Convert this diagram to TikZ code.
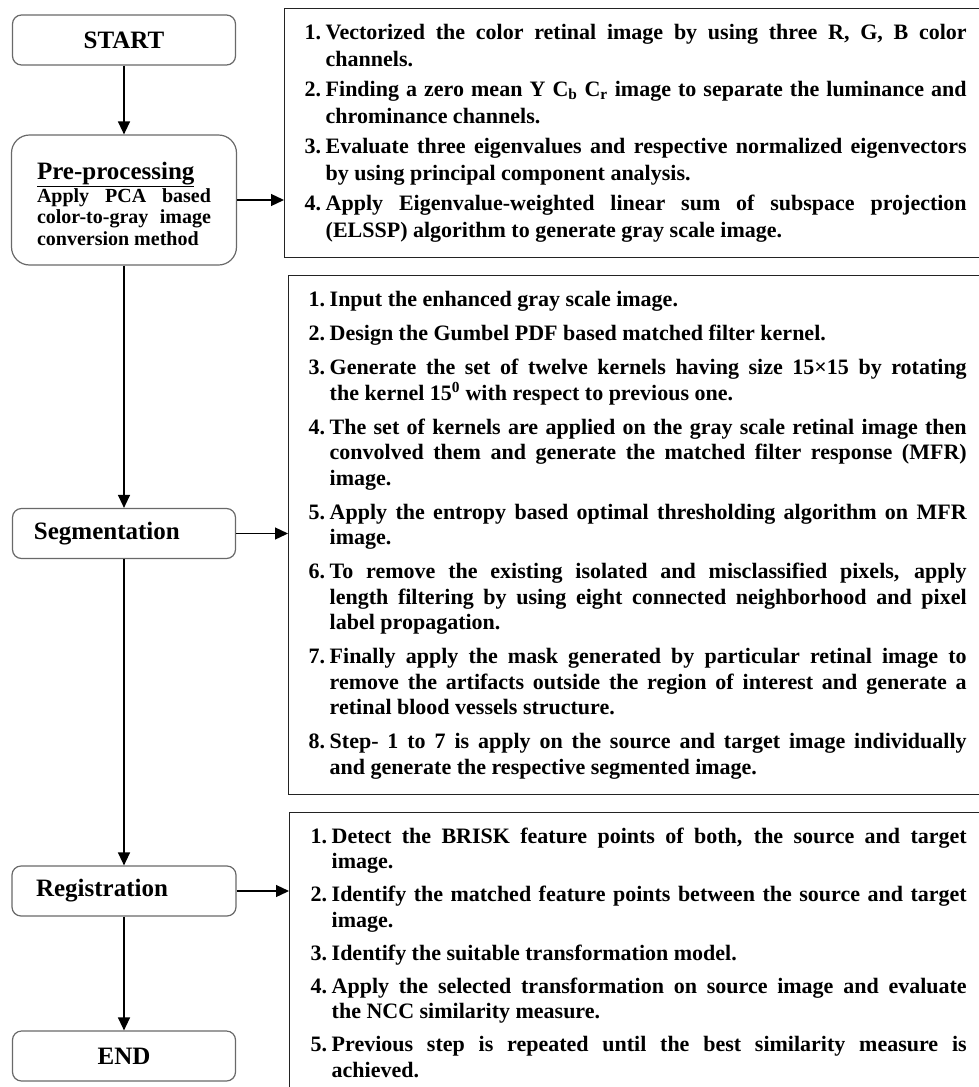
\documentclass[tikz,border=0pt]{standalone}
\usepackage{fontspec}
\setmainfont{Liberation Serif}
\usetikzlibrary{arrows.meta}
\definecolor{cFrame}{RGB}{35,35,35}
\definecolor{cStage}{RGB}{105,105,105}

\newcounter{stepno}
\newenvironment{steplist}[3]{%
  \begin{minipage}{#1}\fontsize{22}{#2}\selectfont\bfseries\tolerance=9999
  \list{\arabic{stepno}.}{\usecounter{stepno}\setlength\leftmargin{21pt}%
    \setlength\labelwidth{21pt}\setlength\labelsep{0pt}\setlength\itemsep{#3}%
    \setlength\parsep{0pt}\setlength\topsep{0pt}\setlength\partopsep{0pt}%
    \def\makelabel##1{##1\hfil}}}
  {\endlist\end{minipage}}

\begin{document}
\begin{tikzpicture}[x=1pt, y=-1pt,
    stage/.style={draw=cStage, line width=1.2pt, rounded corners=9pt, text width=180pt, inner xsep=21.5pt,
      minimum width=223pt, minimum height=50pt, font=\fontsize{25}{28}\selectfont\bfseries},
    panel/.style={draw=cFrame, line width=1.4pt, inner xsep=20pt, inner ysep=0pt},
    flow/.style={-{Triangle[length=13pt,width=12pt]}, line width=1.3pt}]
  \useasboundingbox (0,0) rectangle (978,1087);
  \node[stage, align=center] (start) at (124,40) {START};
  \node[stage, rounded corners=18pt, minimum width=225pt, minimum height=130pt, text width=174pt, inner xsep=25.5pt, align=justify] (pre) at (124,200)
    {\rule{0pt}{25pt}\underline{Pre-processing}\par\vskip1pt
     {\fontsize{20}{21.5}\selectfont Apply PCA based\linebreak color-to-gray image\linebreak conversion method\par}};
  \node[stage, align=left] (seg) at (124,533.5) {Segmentation};
  \node[stage, align=left, text width=176pt, inner xsep=24pt] (reg) at (124,891) {Registration};
  \node[stage, align=center] (stop) at (124,1056) {END};

  \node[panel, anchor=north west, minimum height=249pt] (prepbox) at (284,8) {\begin{steplist}{662pt}{27pt}{3pt}
    \item Vectorized the color retinal image by using three R, G, B color\linebreak channels.
    \item Finding a zero mean Y C\textsubscript{b} C\textsubscript{r} image to separate the luminance and\linebreak chrominance channels.
    \item Evaluate three eigenvalues and respective normalized eigenvectors\linebreak by using principal component analysis.
    \item Apply Eigenvalue-weighted linear sum of subspace projection\linebreak (ELSSP) algorithm to generate gray scale image.
  \end{steplist}};
  \node[panel, anchor=north west, minimum height=519pt] (segbox) at (288,275) {\begin{steplist}{658pt}{25.5pt}{8.5pt}
    \item Input the enhanced gray scale image.
    \item Design the Gumbel PDF based matched filter kernel.
    \item Generate the set of twelve kernels having size 15×15 by rotating\linebreak the kernel 15\textsuperscript{0} with respect to previous one.
    \item The set of kernels are applied on the gray scale retinal image then\linebreak convolved them and generate the matched filter response (MFR)\linebreak image.
    \item Apply the entropy based optimal thresholding algorithm on MFR\linebreak image.
    \item To remove the existing isolated and misclassified pixels, apply\linebreak length filtering by using eight connected neighborhood and pixel\linebreak label propagation.
    \item Finally apply the mask generated by particular retinal image to\linebreak remove the artifacts outside the region of interest and generate a\linebreak retinal blood vessels structure.
    \item Step- 1 to 7 is apply on the source and target image individually\linebreak and generate the respective segmented image.
  \end{steplist}};
  \node[panel, anchor=north west, inner xsep=21pt, inner ysep=15pt] (regbox) at (289,812) {\begin{steplist}{656pt}{25.5pt}{7.5pt}
    \item Detect the BRISK feature points of both, the source and target\linebreak image.
    \item Identify the matched feature points between the source and target\linebreak image.
    \item Identify the suitable transformation model.
    \item Apply the selected transformation on source image and evaluate\linebreak the NCC similarity measure.
    \item Previous step is repeated until the best similarity measure is\linebreak achieved.
  \end{steplist}};

  \foreach \a/\b in {start/pre, pre/seg, seg/reg, reg/stop}
    \draw[flow] (\a) -- (\b);
  \foreach \a/\b in {pre/prepbox, seg/segbox, reg/regbox}
    \draw[flow] (\a.east) -- (\a.east -| \b.west);
\end{tikzpicture}
\end{document}
